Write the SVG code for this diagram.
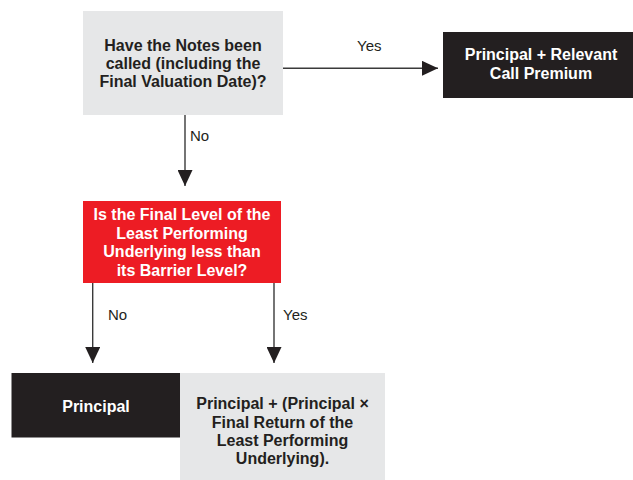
<svg xmlns="http://www.w3.org/2000/svg" width="633" height="480" viewBox="0 0 633 480">
<style>
.t{font-family:"Liberation Sans",Arial,sans-serif;font-size:16px;font-weight:bold;text-anchor:middle}
.lbl{font-family:"Liberation Sans",Arial,sans-serif;font-size:15px;fill:#231f20}
.dk{fill:#231f20}
.wt{fill:#ffffff}
.gray{fill:#e6e7e8}
.blk{fill:#231f20}
.red{fill:#ed1c24}
.ln{stroke:#3a3a3a;stroke-width:1.4;fill:none}
</style>
<defs>
<marker id="ah" markerUnits="userSpaceOnUse" markerWidth="16" markerHeight="15" refX="16" refY="7.5" orient="auto">
<path d="M0,0 L16,7.5 L0,15 Z" fill="#231f20"/>
</marker>
</defs>
<g id="connectors">
<line class="ln" x1="283" y1="68.3" x2="438" y2="68.3" marker-end="url(#ah)"/>
<line class="ln" x1="185" y1="115" x2="185" y2="186" marker-end="url(#ah)"/>
<line class="ln" x1="92.7" y1="283" x2="92.7" y2="363" marker-end="url(#ah)"/>
<line class="ln" x1="274" y1="283" x2="274" y2="363" marker-end="url(#ah)"/>
<text class="lbl" x="357" y="50.7">Yes</text>
<text class="lbl" x="190" y="140.7">No</text>
<text class="lbl" x="108" y="320">No</text>
<text class="lbl" x="283" y="320">Yes</text>
</g>
<g id="node-called">
<rect class="gray" x="83" y="11" width="200" height="104"/>
<text class="t dk" x="183" y="50.7">Have the Notes been</text>
<text class="t dk" x="183" y="69">called (including the</text>
<text class="t dk" x="183" y="87.3">Final Valuation Date)?</text>
</g>
<g id="node-call-premium">
<rect class="blk" x="443" y="32" width="190" height="66"/>
<text class="t wt" x="541" y="60">Principal + Relevant</text>
<text class="t wt" x="541" y="79.3">Call Premium</text>
</g>
<g id="node-barrier">
<rect class="red" x="83" y="201" width="198" height="82"/>
<text class="t wt" x="182" y="220">Is the Final Level of the</text>
<text class="t wt" x="182" y="238.7">Least Performing</text>
<text class="t wt" x="182" y="257">Underlying less than</text>
<text class="t wt" x="182" y="275.7">its Barrier Level?</text>
</g>
<g id="node-principal">
<rect class="blk" x="11.5" y="373" width="168.5" height="64.5"/>
<text class="t wt" x="96" y="411.7">Principal</text>
</g>
<g id="node-return">
<rect class="gray" x="180" y="373" width="205" height="107"/>
<text class="t dk" x="282.5" y="409.3">Principal + (Principal ×</text>
<text class="t dk" x="282.5" y="427.5">Final Return of the</text>
<text class="t dk" x="282.5" y="445.7">Least Performing</text>
<text class="t dk" x="282.5" y="464">Underlying).</text>
</g>
</svg>
